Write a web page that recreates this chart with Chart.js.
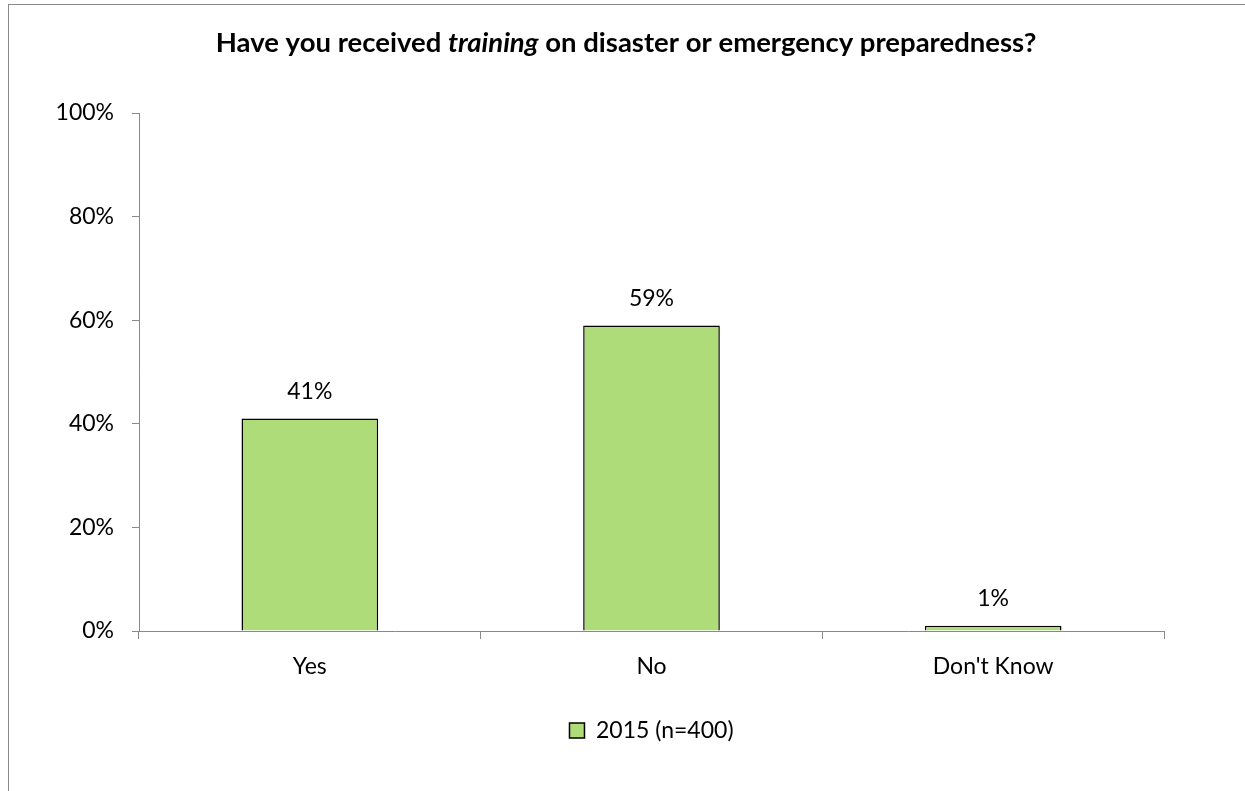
<!DOCTYPE html>
<html>
<head>
<meta charset="utf-8">
<script src="https://cdn.jsdelivr.net/npm/chart.js@4/dist/chart.umd.min.js"></script>
<style>
  html, body { margin: 0; padding: 0; background: #fff; }
  #wrap { position: relative; width: 1245px; height: 791px; overflow: hidden; }
  #frame { position: absolute; left: 8px; top: 4px; width: 1300px; height: 900px;
           border-left: 1px solid #8a8a8a; border-top: 1px solid #8a8a8a; box-sizing: border-box; }
  canvas { position: absolute; left: 0; top: 0; }
</style>
</head>
<body>
<div id="wrap">
  <div id="frame"></div>
  <canvas id="c" width="1245" height="791"></canvas>
</div>
<script>
const categories = ['Yes', 'No', "Don't Know"];
const values2015 = [41, 59, 1];
const seriesLabel = '2015 (n=400)';
const titleParts = [
  { text: 'Have you received ', italic: false },
  { text: 'training', italic: true },
  { text: ' on disaster or emergency preparedness?', italic: false }
];
const yTicks = [0, 20, 40, 60, 80, 100];

const FONT = 'Lato';
const AXIS = '#898989';
const GREEN = '#ADDC78';

const titlePlugin = {
  id: 'mixedTitle',
  afterDraw(chart) {
    const ctx = chart.ctx;
    ctx.save();
    const size = 27.5;
    let total = 0;
    const widths = titleParts.map(p => {
      ctx.font = (p.italic ? 'italic ' : '') + 'bold ' + size + 'px ' + FONT;
      const w = ctx.measureText(p.text).width;
      total += w;
      return w;
    });
    let x = 626 - total / 2;
    ctx.fillStyle = '#000';
    ctx.textBaseline = 'middle';
    ctx.textAlign = 'left';
    titleParts.forEach((p, i) => {
      ctx.font = (p.italic ? 'italic ' : '') + 'bold ' + size + 'px ' + FONT;
      ctx.fillText(p.text, x, 43);
      x += widths[i];
    });
    ctx.restore();
  }
};

const valueLabels = {
  id: 'valueLabels',
  afterDatasetsDraw(chart) {
    const ctx = chart.ctx;
    ctx.save();
    ctx.font = '23px ' + FONT;
    ctx.fillStyle = '#000';
    ctx.textAlign = 'center';
    ctx.textBaseline = 'middle';
    const meta = chart.getDatasetMeta(0);
    meta.data.forEach((bar, i) => {
      ctx.fillText(values2015[i] + '%', bar.x, bar.y - 27);
    });
    ctx.restore();
  }
};

new Chart(document.getElementById('c'), {
  type: 'bar',
  data: {
    labels: categories,
    datasets: [{
      label: seriesLabel,
      data: values2015,
      backgroundColor: GREEN,
      borderColor: '#000',
      borderWidth: 1.5,
      categoryPercentage: 1.0,
      barPercentage: 0.4
    }]
  },
  options: {
    responsive: false,
    animation: false,
    layout: { padding: { top: 113, right: 81, left: 0, bottom: 39 } },
    plugins: {
      title: { display: false },
      tooltip: { enabled: false },
      legend: {
        position: 'bottom',
        fullSize: false,
        labels: {
          boxWidth: 15, boxHeight: 15,
          color: '#000',
          font: { family: FONT, size: 23 },
          generateLabels(chart) {
            return [{
              text: seriesLabel,
              fillStyle: GREEN,
              strokeStyle: '#000',
              lineWidth: 1.5,
              datasetIndex: 0
            }];
          }
        }
      }
    },
    scales: {
      x: {
        grid: { display: true, drawOnChartArea: false, drawTicks: true, tickLength: 8, color: AXIS, offset: true },
        border: { color: AXIS, width: 1 },
        ticks: { color: '#000', font: { family: FONT, size: 23 }, padding: 14 },
        afterFit(s) { s.height = 78; }
      },
      y: {
        min: 0, max: 100,
        afterBuildTicks(s) { s.ticks = yTicks.map(v => ({ value: v })); },
        grid: { display: true, drawOnChartArea: false, drawTicks: true, tickLength: 7, color: AXIS },
        border: { color: AXIS, width: 1 },
        ticks: { color: '#000', font: { family: FONT, size: 23 }, padding: 18, callback: v => v + '%' },
        afterFit(s) { s.width = 139; }
      }
    }
  },
  plugins: [titlePlugin, valueLabels]
});
</script>
</body>
</html>
